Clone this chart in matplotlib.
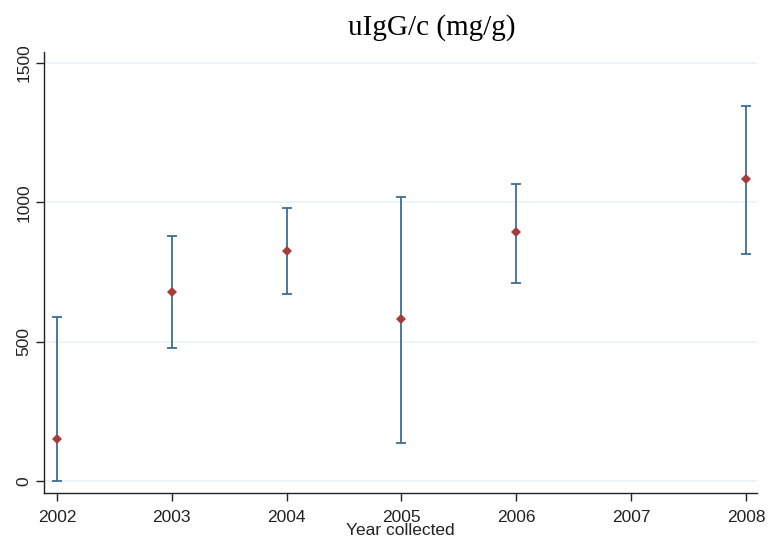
import matplotlib
matplotlib.use("Agg")
import matplotlib.pyplot as plt

years = [2002, 2003, 2004, 2005, 2006, 2008]
means = [150, 678, 825, 581, 893, 1084]
upper = [588, 879, 980, 1019, 1066, 1346]
lower = [0, 477, 671, 136, 710, 815]
xticks = [2002, 2003, 2004, 2005, 2006, 2007, 2008]
yticks = [0, 500, 1000, 1500]

fig = plt.figure(figsize=(7.68, 5.46), dpi=100)
ax = fig.add_axes([0.0573, 0.097, 0.9284, 0.8078])

for y in yticks:
    ax.axhline(y, color="#eaf2f3", lw=1.2, zorder=0)

err_lo = [m - l for m, l in zip(means, lower)]
err_hi = [u - m for m, u in zip(means, upper)]
ax.errorbar(years, means, yerr=[err_lo, err_hi], fmt="none", ecolor="#3d6f95",
            elinewidth=1.3, capsize=3.5, capthick=1.3, zorder=2)
ax.plot(years, means, "D", color="#a43c3c", ms=5.5, zorder=3, markeredgewidth=0)

ax.set_xlim(2001.887, 2008.096)
ax.set_ylim(-43, 1539)
ax.set_xticks(xticks)
ax.set_yticks(yticks)
ax.set_xticklabels([str(x) for x in xticks], fontsize=12.5, family="Liberation Sans", color="#222222")
ax.set_yticklabels([str(y) for y in yticks], fontsize=12.5, family="Liberation Sans", rotation=90,
                   va="center", color="#222222")
ax.tick_params(axis="both", length=6, width=1, color="#222222")
ax.tick_params(axis="x", pad=6)
ax.tick_params(axis="y", pad=3)
for s in ["top", "right"]:
    ax.spines[s].set_visible(False)
for s in ["left", "bottom"]:
    ax.spines[s].set_color("#222222")
    ax.spines[s].set_linewidth(1.0)

ax.set_xlabel("Year collected", fontsize=12.5, family="Liberation Sans", color="#222222", labelpad=-1)
fig.text(0.5625, 0.95, "uIgG/c (mg/g)", fontsize=21, family="Liberation Serif", ha="center", va="center")

fig.savefig("out.png", dpi=100)
